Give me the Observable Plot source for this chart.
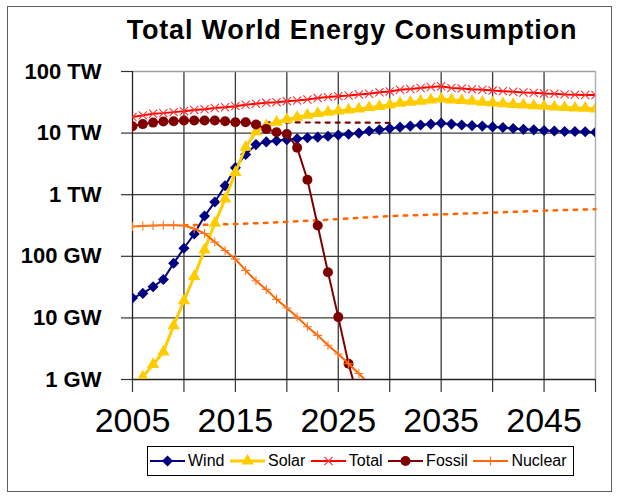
<!DOCTYPE html>
<html><head><meta charset="utf-8">
<script src="https://cdn.jsdelivr.net/npm/d3@7"></script>
<script src="https://cdn.jsdelivr.net/npm/@observablehq/plot@0.6"></script>
<style>
body{margin:0;background:#fff;font-family:"Liberation Sans",Arial,sans-serif;}
#wrap{position:relative;width:623px;height:503px;overflow:hidden;background:#fff;}
#chart{position:absolute;left:0;top:0;}
#frame{position:absolute;left:7px;top:6px;width:605px;height:486px;border:1.5px solid #606060;box-sizing:border-box;pointer-events:none;}
#title{position:absolute;left:52px;width:600px;top:17px;text-align:center;font-weight:bold;font-size:27px;line-height:27px;letter-spacing:0.8px;color:#000;white-space:nowrap;}
#legend{position:absolute;left:147px;top:446px;width:427px;height:30px;border:1px solid #000;box-sizing:border-box;display:flex;align-items:center;padding-left:2px;column-gap:5.5px;font-size:16px;color:#000;background:#fff;}
#legend .item{display:flex;align-items:center;white-space:nowrap;}
#legend svg{margin-right:3px;}
</style>
</head><body>
<div id="wrap">
  <div id="chart"></div>
  <div id="title">Total World Energy Consumption</div>
  <div id="legend"></div>
  <div id="frame"></div>
</div>
<script>
// ---- data (values in GW) ----
const years = d3.range(2005, 2051);
const wind = [21,25,32,42,77,135,230,450,760,1400,2750,4500,6500,7200,7500,7800,8100,8400,8600,8900,9300,9600,10000,10800,11300,11900,12500,13000,13500,14000,14500,14000,13500,13200,13000,12600,12300,11900,11500,11300,11000,10800,10600,10600,10500,10300];
const solar = [0.75,1.1,1.75,2.8,7.5,19,47,127,345,850,2300,5900,10500,13200,15100,16700,18100,19500,20800,21900,23000,23800,24700,26000,27000,28800,30700,31800,33000,34600,36000,34600,33800,33000,31800,31000,30000,29300,28800,28000,27400,26700,26100,25700,25400,24700];
const total = [18200,19400,20600,21100,21900,22700,23800,24400,25600,26300,27400,28800,29900,31000,31800,33000,33800,35200,37000,38400,39800,40700,42300,43500,46000,47500,50500,52000,54000,56000,57500,54000,53000,51500,50500,49000,48000,47000,45500,45000,44000,43500,42500,42000,41500,41500];
const fossil = [12900,14000,14800,15400,15600,16000,16000,16000,16000,15600,15000,15000,13800,11700,10300,9700,5800,1750,316,55,10.3,1.8,0.45];
const nuclear = [305,310,315,318,320,315,280,235,170,124,90,59,40,29,20,14.5,10.3,7.2,5.2,3.6,2.6,1.8,1.25,0.85];
const fossilTrendYears = [2016, 2030];
const fossilTrendValues = [15000, 14700];
const nuclearTrendYears = [2010, 2015, 2020, 2025, 2030, 2035, 2040, 2045, 2050];
const nuclearTrendValues = [318, 335, 362, 402, 448, 480, 512, 550, 582];
const xTickYears = [2005, 2010, 2015, 2020, 2025, 2030, 2035, 2040, 2045, 2050];
const xLabelYears = [2005, 2015, 2025, 2035, 2045];
const yTicks = [1, 10, 100, 1000, 10000, 100000];
const yTickLabels = ["1 GW", "10 GW", "100 GW", "1 TW", "10 TW", "100 TW"];
const seriesNames = ["Wind", "Solar", "Total", "Fossil", "Nuclear"];

// ---- styles ----
const styles = {
  Wind:    {color: "#000080", width: 2,   symbol: "diamond2", r: 5.0, filled: true},
  Solar:   {color: "#FFCC00", width: 3,   symbol: "triangle", r: 4.6, filled: true},
  Total:   {color: "#FF0000", width: 2,   symbol: "times",    r: 3.8, filled: false, markColor: "#FF3333"},
  Fossil:  {color: "#800000", width: 2,   symbol: "circle",   r: 5.0, filled: true},
  Nuclear: {color: "#FF6600", width: 2,   symbol: "plus",     r: 3.0, filled: false, markColor: "#FF7722"}
};

const rows = (arr) => arr.map((v, i) => ({year: years[i], value: v}));
const seriesData = {Wind: rows(wind), Solar: rows(solar), Total: rows(total), Fossil: rows(fossil), Nuclear: rows(nuclear)};
const fossilTrend = fossilTrendYears.map((y, i) => ({year: y, value: fossilTrendValues[i]}));
const nuclearTrend = nuclearTrendYears.map((y, i) => ({year: y, value: nuclearTrendValues[i]}));

const seriesMarks = [];
for (const name of seriesNames) {
  const s = styles[name];
  const data = seriesData[name];
  seriesMarks.push(Plot.line(data, {x: "year", y: "value", stroke: s.color, strokeWidth: s.width, clip: true}));
  if (s.filled) {
    seriesMarks.push(Plot.dot(data, {x: "year", y: "value", symbol: s.symbol, r: s.r, fill: s.color, stroke: "none", clip: true}));
  } else {
    seriesMarks.push(Plot.dot(data, {x: "year", y: "value", symbol: s.symbol, r: s.r, fill: "none", stroke: s.markColor, strokeWidth: 1.1, clip: true}));
  }
}

const chart = Plot.plot({
  width: 623,
  height: 445,
  marginLeft: 132,
  marginRight: 28,
  marginTop: 71,
  marginBottom: 66,
  style: {fontFamily: "'Liberation Sans', Arial, sans-serif", background: "transparent", color: "#000", overflow: "visible"},
  x: {domain: [2005, 2050], label: null},
  y: {type: "log", domain: [1, 100000], label: null},
  marks: [
    Plot.ruleX(xTickYears.slice(1, -1), {stroke: "#3a3a3a", strokeWidth: 1.3}),
    Plot.ruleY(yTicks.slice(1, -1), {stroke: "#3a3a3a", strokeWidth: 1.3}),
    Plot.ruleY([100000], {stroke: "#a0a0a0", strokeWidth: 1.3}),
    Plot.ruleX([2050], {stroke: "#b0b0b0", strokeWidth: 1.5}),
    Plot.axisX({ticks: xTickYears, label: null, tickSize: 13, tickPadding: 15, tickFormat: d => xLabelYears.includes(d) ? String(d) : "", fontSize: 34, stroke: "#333", strokeWidth: 1.2}),
    Plot.axisY({ticks: yTicks, label: null, tickSize: 11, tickPadding: 20, tickFormat: d => yTickLabels[yTicks.indexOf(d)], fontSize: 22, fontWeight: "bold", stroke: "#333", strokeWidth: 1.2}),
    Plot.ruleX([2005], {stroke: "#222", strokeWidth: 1.3}),
    Plot.ruleY([1], {stroke: "#222", strokeWidth: 1.3}),
    Plot.line(nuclearTrend, {x: "year", y: "value", stroke: "#FF6600", strokeWidth: 2.5, strokeDasharray: "3.5,6.5", curve: "monotone-x"}),
    Plot.line(fossilTrend, {x: "year", y: "value", stroke: "#800000", strokeWidth: 2.2, strokeDasharray: "4,6"}),
    ...seriesMarks
  ]
});
document.getElementById("chart").appendChild(chart);

// ---- legend ----
const legend = d3.select("#legend");
for (const name of seriesNames) {
  const s = styles[name];
  const item = legend.append("div").attr("class", "item");
  const svg = item.append("svg").attr("width", 35).attr("height", 14);
  svg.append("line").attr("x1", 0).attr("x2", 35).attr("y1", 7).attr("y2", 7)
    .attr("stroke", s.color).attr("stroke-width", s.width);
  const symType = {diamond2: d3.symbolDiamond2, triangle: d3.symbolTriangle, times: d3.symbolTimes, circle: d3.symbolCircle, plus: d3.symbolPlus}[s.symbol];
  const path = svg.append("path").attr("transform", "translate(17.5,7)")
    .attr("d", d3.symbol(symType, Math.PI * s.r * s.r)());
  if (s.filled) path.attr("fill", s.color);
  else path.attr("fill", "none").attr("stroke", s.markColor).attr("stroke-width", 1.2);
  item.append("span").text(name);
}
</script>
</body></html>
